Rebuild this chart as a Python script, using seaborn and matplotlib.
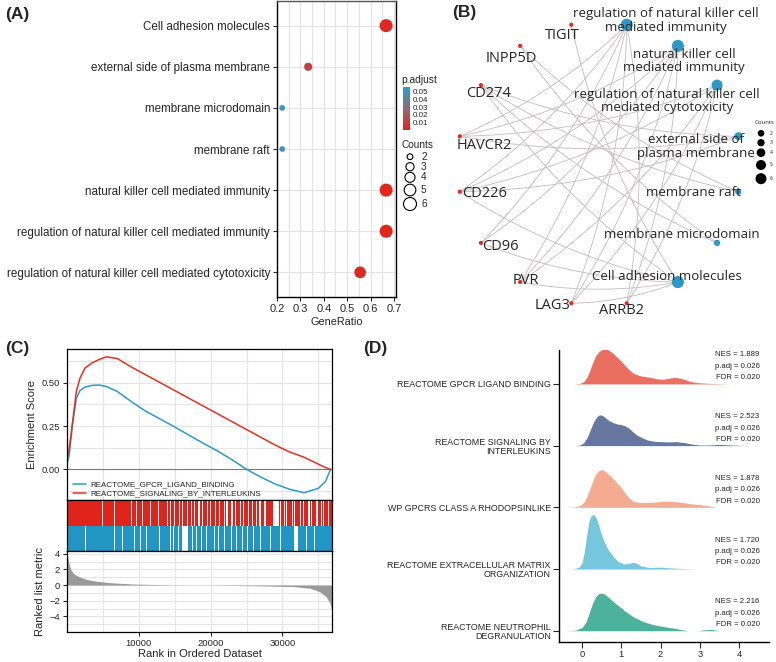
import matplotlib.pyplot as plt
import matplotlib.colors as mcolors
import seaborn as sns
import numpy as np
import pandas as pd

sns.set_style("white")
plt.rcParams['font.family'] = ['Liberation Sans', 'DejaVu Sans']

W, H = 776, 662

# ---------------- (A) / (B) enrichment terms ----------------
terms = ["Cell adhesion molecules",
         "external side of plasma membrane",
         "membrane microdomain",
         "membrane raft",
         "natural killer cell mediated immunity",
         "regulation of natural killer cell mediated immunity",
         "regulation of natural killer cell mediated cytotoxicity"]
term_counts = [6, 3, 2, 2, 6, 6, 5]
term_padj = [0.002, 0.012, 0.052, 0.052, 0.001, 0.001, 0.003]
n_genes = 9

# network: genes linked to each term
term_genes = {
    "Cell adhesion molecules": ["TIGIT", "CD274", "CD226", "CD96", "PVR", "LAG3"],
    "external side of plasma membrane": ["CD274", "HAVCR2", "CD226"],
    "membrane microdomain": ["CD274", "INPP5D"],
    "membrane raft": ["CD274", "INPP5D"],
    "natural killer cell mediated immunity": ["HAVCR2", "CD226", "CD96", "PVR", "LAG3", "ARRB2"],
    "regulation of natural killer cell mediated immunity": ["HAVCR2", "CD226", "CD96", "PVR", "LAG3", "ARRB2"],
    "regulation of natural killer cell mediated cytotoxicity": ["HAVCR2", "CD226", "PVR", "LAG3", "ARRB2"],
}
# clockwise order on the circle, starting just right of 12 o'clock
circle_order = ["regulation of natural killer cell mediated immunity",
                "natural killer cell mediated immunity",
                "regulation of natural killer cell mediated cytotoxicity",
                "external side of plasma membrane",
                "membrane raft",
                "membrane microdomain",
                "Cell adhesion molecules",
                "ARRB2", "LAG3", "PVR", "CD96", "CD226", "HAVCR2", "CD274", "INPP5D", "TIGIT"]
net_labels = {
    "regulation of natural killer cell mediated immunity": "regulation of natural killer cell\nmediated immunity",
    "natural killer cell mediated immunity": "natural killer cell\nmediated immunity",
    "regulation of natural killer cell mediated cytotoxicity": "regulation of natural killer cell\nmediated cytotoxicity",
    "external side of plasma membrane": "external side of\nplasma membrane",
}
# label offsets (px) from node
label_offset = {
    "regulation of natural killer cell mediated immunity": (39, -4),
    "natural killer cell mediated immunity": (6, 15),
    "regulation of natural killer cell mediated cytotoxicity": (-50, 16),
    "external side of plasma membrane": (-42, 10),
    "membrane raft": (-45, 1),
    "membrane microdomain": (-35, -8),
    "Cell adhesion molecules": (-11, -6),
    "ARRB2": (-5, 7), "LAG3": (-19, 2), "PVR": (6, -2), "CD96": (19, 4),
    "CD226": (25, 2), "HAVCR2": (25, 9), "CD274": (8, 8), "INPP5D": (-9, 13), "TIGIT": (-9, 11),
}

# ---------------- (C) GSEA running scores ----------------
es_rank = [0, 300, 800, 1300, 1800, 2500, 3500, 4500, 5500, 7000, 9000, 11000, 13000,
           15000, 17000, 19000, 21000, 23000, 25000, 27000, 29000, 31000, 33000, 35000, 36000, 36700]
es_interleukins = [0.05, 0.12, 0.28, 0.45, 0.525, 0.585, 0.615, 0.635, 0.65, 0.64, 0.59, 0.545, 0.5,
                   0.455, 0.41, 0.365, 0.32, 0.275, 0.23, 0.185, 0.14, 0.1, 0.07, 0.03, 0.01, 0.0]
es_gpcr = [0.03, 0.08, 0.27, 0.41, 0.455, 0.475, 0.485, 0.487, 0.478, 0.45, 0.39, 0.335, 0.29,
           0.245, 0.197, 0.15, 0.105, 0.055, 0.0, -0.045, -0.085, -0.115, -0.135, -0.11, -0.07, 0.0]
red_hits = [(0, 4900), (5050, 6500), (6650, 7050), (7150, 8900), (9050, 9550), (9700, 10500),
            (10650, 11500), (11650, 12700), (12850, 13900), (14050, 14400), (14550, 14900),
            (15050, 15550), (15700, 15950), (16100, 16700), (16850, 17300), (17450, 17650),
            (17800, 18300), (18450, 18800), (18950, 19500), (19650, 19900), (20050, 20600),
            (20750, 21100), (21250, 21800), (21950, 22200), (22350, 22900), (23050, 23400),
            (23550, 24100), (24250, 24500), (24650, 25200), (25350, 25700), (25850, 26300),
            (26450, 26800), (26950, 27500), (27650, 28700), (29500, 29650), (29800, 30200),
            (30400, 30550), (30700, 31300), (31500, 31650), (31800, 32400), (32550, 32900),
            (33050, 33600), (33800, 33950), (34100, 34700), (34900, 35300), (35450, 35600),
            (35750, 36300), (36450, 36900)]
blue_hits = [(0, 2500), (2600, 5400), (5500, 6600), (6700, 7700), (7800, 9300), (9450, 10100),
             (10250, 11000), (11150, 11500), (11600, 12800), (12950, 14300), (14450, 14800),
             (14950, 15500), (15650, 15950), (16800, 17400), (17550, 18000), (18150, 18700),
             (18850, 19400), (19550, 20500), (20650, 21000), (21150, 21800), (21950, 22800),
             (22950, 23500), (23650, 24300), (24450, 25000), (25150, 25900), (26050, 26900),
             (27050, 28200), (28400, 29600), (29750, 31600), (32100, 33300), (33450, 34400),
             (34550, 36900)]
metric_rank = [0, 200, 560, 1000, 1700, 2600, 3600, 5900, 9200, 13800, 18000, 23000, 27800,
               31500, 33800, 35200, 36100, 36600, 36900]
metric_value = [4.2, 3.0, 1.9, 1.4, 1.05, 0.75, 0.55, 0.3, 0.13, 0.04, 0.0, -0.05, -0.12,
                -0.2, -0.4, -0.85, -1.5, -2.3, -3.3]

# ---------------- (D) ridge densities ----------------
ridge_names = ["REACTOME GPCR LIGAND BINDING", "REACTOME SIGNALING BY\nINTERLEUKINS",
               "WP GPCRS CLASS A RHODOPSINLIKE", "REACTOME EXTRACELLULAR MATRIX\nORGANIZATION",
               "REACTOME NEUTROPHIL\nDEGRANULATION"]
ridge_nes = [1.889, 2.523, 1.878, 1.720, 2.216]
ridge_padj = [0.026, 0.026, 0.026, 0.026, 0.026]
ridge_fdr = [0.020, 0.020, 0.020, 0.020, 0.020]
ridge_x = [
    [-0.2, -0.05, 0.05, 0.12, 0.2, 0.28, 0.36, 0.44, 0.52, 0.6, 0.68, 0.76, 0.85, 0.95, 1.05, 1.15,
     1.25, 1.35, 1.5, 1.7, 1.9, 2.05, 2.2, 2.32, 2.45, 2.6, 2.75, 2.95, 3.2, 3.5, 3.77],
    [-0.18, -0.05, 0.05, 0.13, 0.22, 0.3, 0.38, 0.45, 0.52, 0.6, 0.7, 0.8, 0.9, 1.0, 1.1, 1.2, 1.3,
     1.4, 1.55, 1.7, 1.85, 2.0, 2.2, 2.4, 2.6, 2.8, 3.0, 3.2, 3.5, 3.8, 4.27],
    [-0.4, -0.2, -0.05, 0.05, 0.13, 0.2, 0.28, 0.36, 0.44, 0.52, 0.6, 0.7, 0.8, 0.9, 1.0, 1.1, 1.2,
     1.3, 1.45, 1.65, 1.85, 2.05, 2.2, 2.4, 2.6, 2.8, 3.0, 3.2, 3.43],
    [-0.34, -0.2, -0.08, 0.0, 0.06, 0.12, 0.18, 0.24, 0.3, 0.36, 0.42, 0.5, 0.58, 0.68, 0.8, 0.92,
     1.05, 1.2, 1.3, 1.4, 1.5, 1.7, 2.0, 2.2, 2.5, 2.9],
    [-0.36, -0.15, 0.0, 0.1, 0.18, 0.26, 0.34, 0.42, 0.5, 0.58, 0.68, 0.8, 0.92, 1.05, 1.2, 1.35,
     1.55, 1.75, 1.95, 2.15, 2.35, 2.55, 2.7, 2.95, 3.1, 3.3, 3.5],
]
ridge_h = [
    [0, 0.01, 0.04, 0.1, 0.22, 0.36, 0.47, 0.53, 0.56, 0.565, 0.55, 0.51, 0.46, 0.4, 0.33, 0.26,
     0.2, 0.16, 0.13, 0.11, 0.085, 0.075, 0.09, 0.105, 0.1, 0.075, 0.04, 0.02, 0.01, 0.004, 0],
    [0, 0.01, 0.05, 0.13, 0.27, 0.39, 0.47, 0.5, 0.49, 0.45, 0.4, 0.37, 0.35, 0.34, 0.32, 0.28,
     0.22, 0.17, 0.12, 0.085, 0.07, 0.065, 0.06, 0.065, 0.05, 0.025, 0.01, 0.01, 0.02, 0.01, 0],
    [0, 0.005, 0.03, 0.08, 0.18, 0.3, 0.44, 0.55, 0.6, 0.61, 0.58, 0.52, 0.46, 0.39, 0.32, 0.23,
     0.15, 0.1, 0.08, 0.08, 0.085, 0.095, 0.1, 0.09, 0.075, 0.055, 0.045, 0.025, 0],
    [0, 0.005, 0.03, 0.1, 0.28, 0.55, 0.78, 0.87, 0.88, 0.83, 0.72, 0.55, 0.42, 0.3, 0.2, 0.12,
     0.08, 0.09, 0.11, 0.09, 0.05, 0.025, 0.03, 0.02, 0.01, 0],
    [0, 0.01, 0.05, 0.14, 0.28, 0.43, 0.54, 0.6, 0.61, 0.59, 0.54, 0.47, 0.41, 0.34, 0.27, 0.21,
     0.15, 0.11, 0.08, 0.06, 0.04, 0.015, 0.0, 0.0, 0.015, 0.02, 0.0],
]
ridge_colors = ["#ea6f61", "#6877a0", "#f5ab91", "#75c7de", "#4cb29b"]

fig = plt.figure(figsize=(W / 100, H / 100), dpi=100)


def px_axes(l, t, r, b):
    return fig.add_axes([l / W, 1 - b / H, (r - l) / W, (b - t) / H])


padj_cmap = mcolors.LinearSegmentedColormap.from_list("padj", ["#e3251b", "#8a6b78", "#2c9fcc"])
padj_norm = mcolors.Normalize(vmin=0.0008, vmax=0.0555)

# ===== (A) dot plot =====
dfA = pd.DataFrame({"Description": terms,
                    "GeneRatio": np.array(term_counts) / n_genes,
                    "p.adjust": term_padj,
                    "Count": term_counts})
axA = px_axes(277, 1, 396, 297)
sns.scatterplot(data=dfA, x="GeneRatio", y="Description", hue="p.adjust", hue_norm=padj_norm,
                palette=padj_cmap, size="Count", sizes=(17, 88), size_norm=(2, 6),
                linewidth=0, legend=False, ax=axA, zorder=3)
axA.set_xlim(0.2, 0.709)
axA.set_ylim(len(terms) - 0.4, -0.6)
axA.set_xticks([0.2, 0.3, 0.4, 0.5, 0.6, 0.7])
axA.set_xticks([0.25, 0.35, 0.45, 0.55, 0.65], minor=True)
axA.grid(which="both", color="#e4e4e4", lw=0.8)
axA.set_axisbelow(True)
axA.tick_params(axis="y", labelsize=8.4, length=3, left=True, pad=2)
axA.tick_params(axis="x", labelsize=8, length=3, bottom=True, pad=2)
axA.set_xlabel("GeneRatio", fontsize=7.8, labelpad=2)
axA.set_ylabel("")
for s in axA.spines.values():
    s.set_color("black")
    s.set_linewidth(1.0)
axA.spines["top"].set_color("#555555")

cax = px_axes(403, 87, 410, 130)
cb = fig.colorbar(plt.cm.ScalarMappable(norm=padj_norm, cmap=padj_cmap), cax=cax,
                  ticks=[0.01, 0.02, 0.03, 0.04, 0.05])
cb.outline.set_visible(False)
cax.tick_params(direction="in", color="white", length=2, width=0.6, labelsize=5.8, pad=2)

# ===== (B) gene-concept network =====
axB = px_axes(430, 0, 776, 330)
cx, cy, rad = 599, 164, 142
ang = np.deg2rad(11.25 + 22.5 * np.arange(len(circle_order)))
pos = {n: (cx + rad * np.sin(a), cy - rad * np.cos(a)) for n, a in zip(circle_order, ang)}

for term, glist in term_genes.items():
    for g in glist:
        p0, p1 = np.array(pos[g]), np.array(pos[term])
        d = p1 - p0
        ctrl = (p0 + p1) / 2 + 0.09 * np.array([-d[1], d[0]])
        t = np.linspace(0, 1, 40)[:, None]
        pts = (1 - t) ** 2 * p0 + 2 * (1 - t) * t * ctrl + t ** 2 * p1
        axB.plot(pts[:, 0], pts[:, 1], color="#c4bdbd", lw=0.6, zorder=1)

count_of = dict(zip(terms, term_counts))
dfB = pd.DataFrame({"name": circle_order,
                    "x": [pos[n][0] for n in circle_order],
                    "y": [pos[n][1] for n in circle_order],
                    "kind": ["term" if n in count_of else "gene" for n in circle_order],
                    "size": [count_of.get(n, 1) for n in circle_order]})
sns.scatterplot(data=dfB, x="x", y="y", hue="kind", palette={"term": "#2b98c8", "gene": "#e8271d"},
                size="size", sizes={1: 9, 2: 20, 3: 33, 5: 63, 6: 76}, linewidth=0,
                legend=False, ax=axB, zorder=3)
axB.set_xlim(430, 776)
axB.set_ylim(330, 0)
axB.axis("off")
for n in circle_order:
    dx, dy = label_offset[n]
    is_term = n in count_of
    axB.text(pos[n][0] + dx, pos[n][1] + dy, net_labels.get(n, n), ha="center", va="center",
             family=["Open Sans", "DejaVu Sans"], fontsize=9.5 if is_term else 10.5,
             linespacing=1.05, zorder=4)

# ===== (C) GSEA plot =====
axES = px_axes(67, 349, 332, 500)
axBar = px_axes(67, 500, 332, 551)
axRk = px_axes(67, 551, 332, 632)
xmax = 36900
sns.lineplot(x=es_rank, y=es_gpcr, color="#2a9bcb", lw=1.1, ax=axES, label="REACTOME_GPCR_LIGAND_BINDING")
sns.lineplot(x=es_rank, y=es_interleukins, color="#e8301f", lw=1.1, ax=axES,
             label="REACTOME_SIGNALING_BY_INTERLEUKINS")
axES.axhline(0, color="#7a7a7a", lw=0.8, zorder=1)
axES.set_xlim(0, xmax)
axES.set_ylim(-0.177, 0.695)
axES.set_yticks([0.0, 0.25, 0.5])
axES.set_yticklabels(["0.00", "0.25", "0.50"])
axES.set_yticks([-0.125, 0.125, 0.375, 0.625], minor=True)
axES.set_xticks([10000, 20000, 30000])
axES.set_xticks([5000, 15000, 25000, 35000], minor=True)
axES.grid(which="both", color="#e6e6e6", lw=0.8)
axES.set_axisbelow(True)
axES.tick_params(axis="x", bottom=False, labelbottom=False, which="both")
axES.tick_params(axis="y", left=True, length=3, labelsize=6.8, pad=2)
axES.tick_params(axis="y", which="minor", left=False)
axES.set_xlabel("")
axES.set_ylabel("Enrichment Score", fontsize=8, labelpad=3)
axES.legend(loc="lower left", bbox_to_anchor=(0.0, -0.02), frameon=False, fontsize=5.8,
            handlelength=1.6, handletextpad=0.6, labelspacing=0.15, borderaxespad=0.3)

for (a, b) in red_hits:
    axBar.axvspan(a, b, ymin=0.5, ymax=1.0, color="#e0241b", lw=0)
for (a, b) in blue_hits:
    axBar.axvspan(a, b, ymin=0.0, ymax=0.5, color="#2196c4", lw=0)
axBar.set_xlim(0, xmax)
axBar.set_ylim(0, 1)
axBar.set_xticks([])
axBar.set_yticks([])

axRk.fill_between(metric_rank, 0, metric_value, color="#9a9a9a", lw=0, zorder=2)
axRk.set_xlim(0, xmax)
axRk.set_ylim(-6.0, 4.35)
axRk.set_yticks([4, 2, 0, -2, -4])
axRk.set_yticks([3, 1, -1, -3, -5], minor=True)
axRk.set_xticks([10000, 20000, 30000])
axRk.set_xticks([5000, 15000, 25000, 35000], minor=True)
axRk.grid(which="both", color="#e6e6e6", lw=0.8)
axRk.set_axisbelow(True)
axRk.tick_params(axis="both", which="major", length=3, labelsize=6.8, pad=2, left=True, bottom=True)
axRk.set_xlabel("Rank in Ordered Dataset", fontsize=8, labelpad=1)
axRk.set_ylabel("Ranked list metric", fontsize=8, labelpad=3)
for a in (axES, axBar, axRk):
    for s in a.spines.values():
        s.set_color("black")
        s.set_linewidth(0.9)

# ===== (D) ridge plot =====
axD = px_axes(559, 350, 769, 642)
nR = len(ridge_names)
for i in range(nR):
    base = nR - 1 - i
    axD.fill_between(ridge_x[i], base, base + np.array(ridge_h[i]), color=ridge_colors[i], lw=0,
                     zorder=2 + i)
    axD.text(4.52, base + 0.47, f"NES = {ridge_nes[i]:.3f}", ha="right", va="center", fontsize=5.6)
    axD.text(4.52, base + 0.285, f"p.adj = {ridge_padj[i]:.3f}", ha="right", va="center", fontsize=5.6)
    axD.text(4.52, base + 0.1, f"FDR = {ridge_fdr[i]:.3f}", ha="right", va="center", fontsize=5.6)
axD.set_xlim(-0.585, 4.76)
axD.set_ylim(-0.183, 4.55)
axD.set_yticks(range(nR))
axD.set_yticklabels(ridge_names[::-1], fontsize=6.4, linespacing=1.05)
axD.set_xticks([0, 1, 2, 3, 4])
axD.tick_params(axis="both", length=4, width=0.8, left=True, bottom=True, pad=2)
axD.tick_params(axis="x", labelsize=6.7)
for side in ["top", "right"]:
    axD.spines[side].set_visible(False)
for side in ["left", "bottom"]:
    axD.spines[side].set_color("black")
    axD.spines[side].set_linewidth(1.0)

# ===== overlay: panel tags and hand-built legends =====
ov = fig.add_axes([0, 0, 1, 1])
ov.set_xlim(0, W)
ov.set_ylim(H, 0)
ov.axis("off")
for tag, (x, y) in {"(A)": (5, 14), "(B)": (452, 13), "(C)": (5, 348), "(D)": (363, 348)}.items():
    ov.text(x, y, tag, fontsize=12.5, fontweight="bold", ha="left", va="center")

ov.text(401, 80, "p.adjust", fontsize=7.4, ha="left", va="center")
ov.text(401, 145, "Counts", fontsize=7.2, ha="left", va="center")
legA_counts = [2, 3, 4, 5, 6]
legA_y = [156.7, 166.7, 177.3, 190, 204]
ov.scatter([410] * 5, legA_y, s=[17 + (c - 2) * 17.75 for c in legA_counts], facecolor="none",
           edgecolor="black", lw=0.8)
for c, y in zip(legA_counts, legA_y):
    ov.text(421, y, str(c), fontsize=7.2, ha="left", va="center")

ov.text(765, 122.7, "Counts", fontsize=4.3, ha="center", va="center", family=["Open Sans", "DejaVu Sans"])
legB_y = [133.3, 142.7, 152.7, 165, 178.7]
ov.scatter([761] * 5, legB_y, s=[23, 28, 39, 52, 63], color="black", lw=0)
for c, y in zip(legA_counts, legB_y):
    ov.text(771, y, str(c), fontsize=3.6, ha="center", va="center", family=["Open Sans", "DejaVu Sans"])

fig.savefig("out.png", dpi=100)
